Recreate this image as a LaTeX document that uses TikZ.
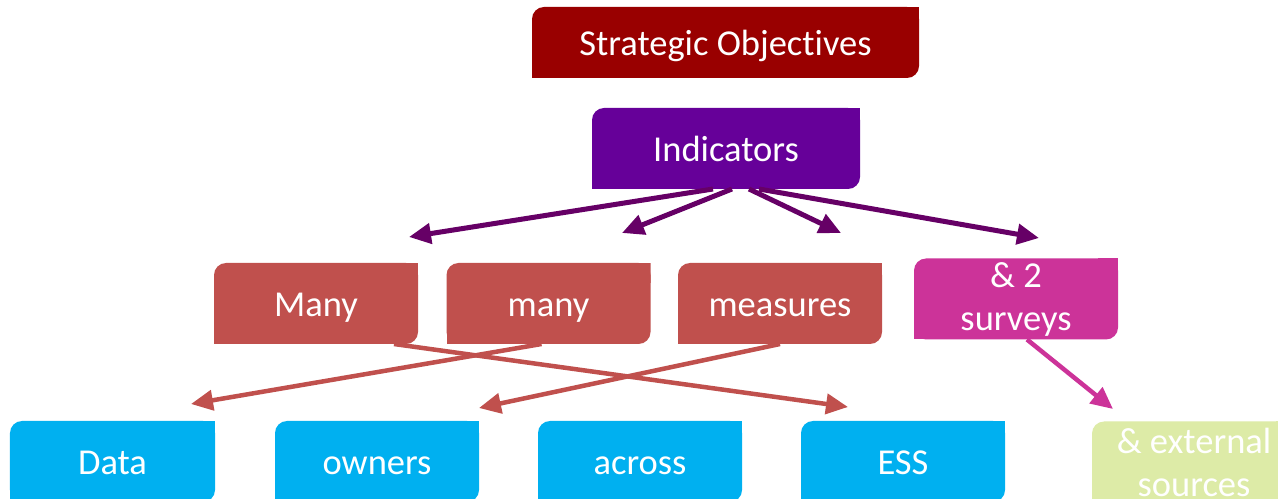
\documentclass[tikz,border=0pt]{standalone}
\usepackage{fontspec}
\setmainfont{Carlito}[Ligatures=NoCommon]
\usetikzlibrary{arrows.meta}
\definecolor{cSO}{HTML}{990000}
\definecolor{cInd}{HTML}{660099}
\definecolor{cRed}{HTML}{C0504D}
\definecolor{cMag}{HTML}{CC3399}
\definecolor{cCyan}{HTML}{00B0F0}
\definecolor{cGreen}{HTML}{DDEBA7}
\definecolor{cPurArrow}{HTML}{660066}
\begin{document}
\begin{tikzpicture}[x=1bp,y=-1bp,
  dbox/.style={minimum width=204bp, minimum height=81bp, inner sep=0pt, outer sep=0pt,
    text=white, font=\fontsize{36.5bp}{43bp}\selectfont, align=center,
    path picture={
      \fill[#1, rounded corners=12bp] (path picture bounding box.south west) rectangle (path picture bounding box.north east);
      \fill[#1] (path picture bounding box.north east) rectangle ([xshift=-20bp,yshift=-20bp]path picture bounding box.north east);
      \fill[#1] (path picture bounding box.south west) rectangle ([xshift=20bp,yshift=20bp]path picture bounding box.south west);
    }},
  oneline/.style={text height=28bp, text depth=1.5bp},
  parrow/.style={draw=cPurArrow, line width=5bp, -{Triangle[length=22bp,width=20bp]}},
  rarrow/.style={draw=cRed, line width=4.5bp, -{Triangle[length=22bp,width=20bp]}},
  marrow/.style={draw=cMag, line width=4.5bp, -{Triangle[length=22bp,width=20bp]}}
]
\useasboundingbox (0,0) rectangle (1278,499);
\fill[white] (0,0) rectangle (1278,499);

\node[dbox=cSO, oneline, minimum width=387bp, minimum height=71bp] (so) at (725.5,42.5) {Strategic Objectives};
\node[dbox=cInd, oneline, minimum width=268bp] (ind) at (726,148.5) {Indicators};

\node[dbox=cRed, oneline] (many1) at (316,303.5) {Many};
\node[dbox=cRed, oneline] (many2) at (548.5,303.5) {many};
\node[dbox=cRed, oneline] (meas) at (780,303.5) {measures};
\node[dbox=cMag] (surv) at (1016,299) {\& 2\\surveys};

\node[dbox=cCyan, oneline, minimum width=205bp] (data) at (112.5,461.5) {Data};
\node[dbox=cCyan, oneline] (own) at (377,461.5) {owners};
\node[dbox=cCyan, oneline] (acr) at (640,461.5) {across};
\node[dbox=cCyan, oneline] (ess) at (903,461.5) {ESS};
\node[dbox=cGreen] (ext) at (1194,462) {\& external\\sources};

\coordinate (p1) at (409,237);
\coordinate (p2) at (622,233);
\coordinate (p3) at (841,233);
\coordinate (p4) at (1039,238);
\draw[parrow] ([xshift=-13bp]ind.south) -- (p1);
\draw[parrow] ([xshift=6bp]ind.south) -- (p2);
\draw[parrow] ([xshift=23bp]ind.south) -- (p3);
\draw[parrow] ([xshift=33bp]ind.south) -- (p4);

\coordinate (r1) at (848,407);
\coordinate (r2) at (191,404);
\coordinate (r3) at (479,408);
\draw[rarrow] ([xshift=78bp]many1.south) -- (r1);
\draw[rarrow] ([xshift=-7bp]many2.south) -- (r2);
\draw[rarrow] (meas.south) -- (r3);

\coordinate (m1) at (1113,409);
\draw[marrow] ([xshift=11bp]surv.south) -- (m1);
\end{tikzpicture}
\end{document}
